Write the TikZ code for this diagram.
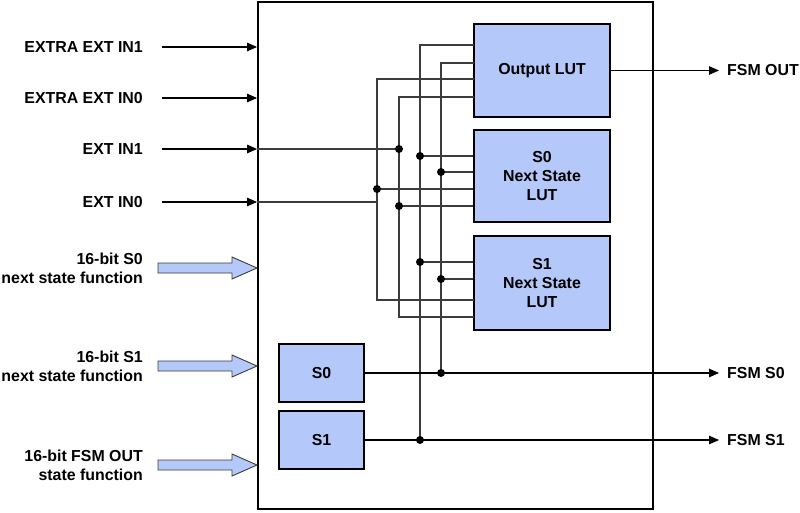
\documentclass[tikz,border=0pt]{standalone}
\usepackage{fontspec}
\setmainfont{Liberation Sans}
\usetikzlibrary{arrows.meta}
\definecolor{lutblue}{RGB}{180,200,250}
\definecolor{wiregray}{RGB}{60,60,60}
\tikzset{
  blk/.style={draw=black, line width=2pt, fill=lutblue, font=\lbl, align=center, inner sep=0pt},
  wire/.style={draw=wiregray, line width=1.1pt},
  sig/.style={draw=black, line width=1.1pt, -{Triangle[length=10pt,width=8.5pt]}},
  lab/.style={font=\lbl, inner sep=0pt, align=right},
  jdot/.style={fill=black, circle, inner sep=0pt, minimum size=8pt},
  fat/.style={fill=lutblue, draw=wiregray, line width=0.9pt, line join=miter},
}
\newcommand{\lbl}{\fontsize{15.9}{19}\selectfont\bfseries}
\begin{document}
\begin{tikzpicture}[x=1pt,y=-1pt]
\useasboundingbox (0,0) rectangle (800,513);
% main frame
\node[draw=black, line width=1.8pt, minimum width=395pt, minimum height=507pt, inner sep=0pt] (big) at (455.5,255.5) {};
% LUT blocks
\node[blk, minimum width=136pt, minimum height=93pt] (outlut) at (542,70.5) {Output LUT};
\node[blk, minimum width=136pt, minimum height=92pt] (s0lut) at (542,176) {S0\\Next State\\LUT};
\node[blk, minimum width=136pt, minimum height=94pt] (s1lut) at (542,283) {S1\\Next State\\LUT};
\node[blk, minimum width=85pt, minimum height=58pt] (s0reg) at (321.5,373) {S0};
\node[blk, minimum width=85pt, minimum height=58pt] (s1reg) at (321.5,440) {S1};
% left labels
\node[lab, anchor=east] (ei1) at (143,47) {EXTRA EXT IN1};
\node[lab, anchor=east] (ei0) at (143,98) {EXTRA EXT IN0};
\node[lab, anchor=east] (in1) at (143,149) {EXT IN1};
\node[lab, anchor=east] (in0) at (143,202) {EXT IN0};
\node[lab, anchor=east] (f0) at (143,268) {16-bit S0\\next state function};
\node[lab, anchor=east] (f1) at (143,366) {16-bit S1\\next state function};
\node[lab, anchor=east] (f2) at (143,465) {16-bit FSM OUT\\state function};
% right labels
\node[lab, anchor=west] (oout) at (727,70.5) {FSM OUT};
\node[lab, anchor=west] (os0) at (727,373) {FSM S0};
\node[lab, anchor=west] (os1) at (727,440) {FSM S1};
% input arrows
\draw[sig] ([xshift=19pt]ei1.east) -- (ei1.east -| big.west);
\draw[sig] ([xshift=19pt]ei0.east) -- (ei0.east -| big.west);
\draw[sig] ([xshift=19pt]in1.east) -- (in1.east -| big.west);
\draw[sig] ([xshift=19pt]in0.east) -- (in0.east -| big.west);
% block arrows
\foreach \yc in {268,366,465}{
  \draw[fat] (158,\yc-5) -- (232,\yc-5) -- (232,\yc-11) -- (257,\yc) -- (232,\yc+11) -- (232,\yc+5) -- (158,\yc+5) -- cycle;
}
% junction coordinates
\coordinate (dA1) at (420,156);
\coordinate (dA2) at (420,262);
\coordinate (dA3) at (420,440);
\coordinate (dB1) at (441,172);
\coordinate (dB2) at (441,279);
\coordinate (dB3) at (441,373);
\coordinate (dC1) at (377,189);
\coordinate (dD0) at (399,149);
\coordinate (dD1) at (399,206);
\coordinate (tA) at (474,45);
\coordinate (tB) at (474,63);
\coordinate (tC) at (474,79);
\coordinate (tD) at (474,97);
\coordinate (bC) at (474,300);
\coordinate (bD) at (474,317);
% wiring
\draw[wire] (tA) -| (dA3);
\draw[wire] (dA1) -- (dA1 -| s0lut.west);
\draw[wire] (dA2) -- (dA2 -| s1lut.west);
\draw[wire] (tB) -| (dB3);
\draw[wire] (dB1) -- (dB1 -| s0lut.west);
\draw[wire] (dB2) -- (dB2 -| s1lut.west);
\draw[wire] (tC) -| (bC -| dC1) -- (bC);
\draw[wire] (dC1) -- (dC1 -| s0lut.west);
\draw[wire] (tD) -| (bD -| dD0) -- (bD);
\draw[wire] (dD1) -- (dD1 -| s0lut.west);
\draw[wire] (in1.east -| big.west) -- (dD0);
\draw[wire] (in0.east -| big.west) -- (in0.east -| dC1);
% outputs
\draw[sig] (outlut.east) -- ([xshift=-8pt]oout.west |- outlut.east);
\draw[sig] (s0reg.east) -- ([xshift=-8pt]os0.west |- s0reg.east);
\draw[sig] (s1reg.east) -- ([xshift=-8pt]os1.west |- s1reg.east);
% dots
\foreach \d in {dA1,dA2,dA3,dB1,dB2,dB3,dC1,dD0,dD1}{\node[jdot] at (\d) {};}
\end{tikzpicture}
\end{document}
